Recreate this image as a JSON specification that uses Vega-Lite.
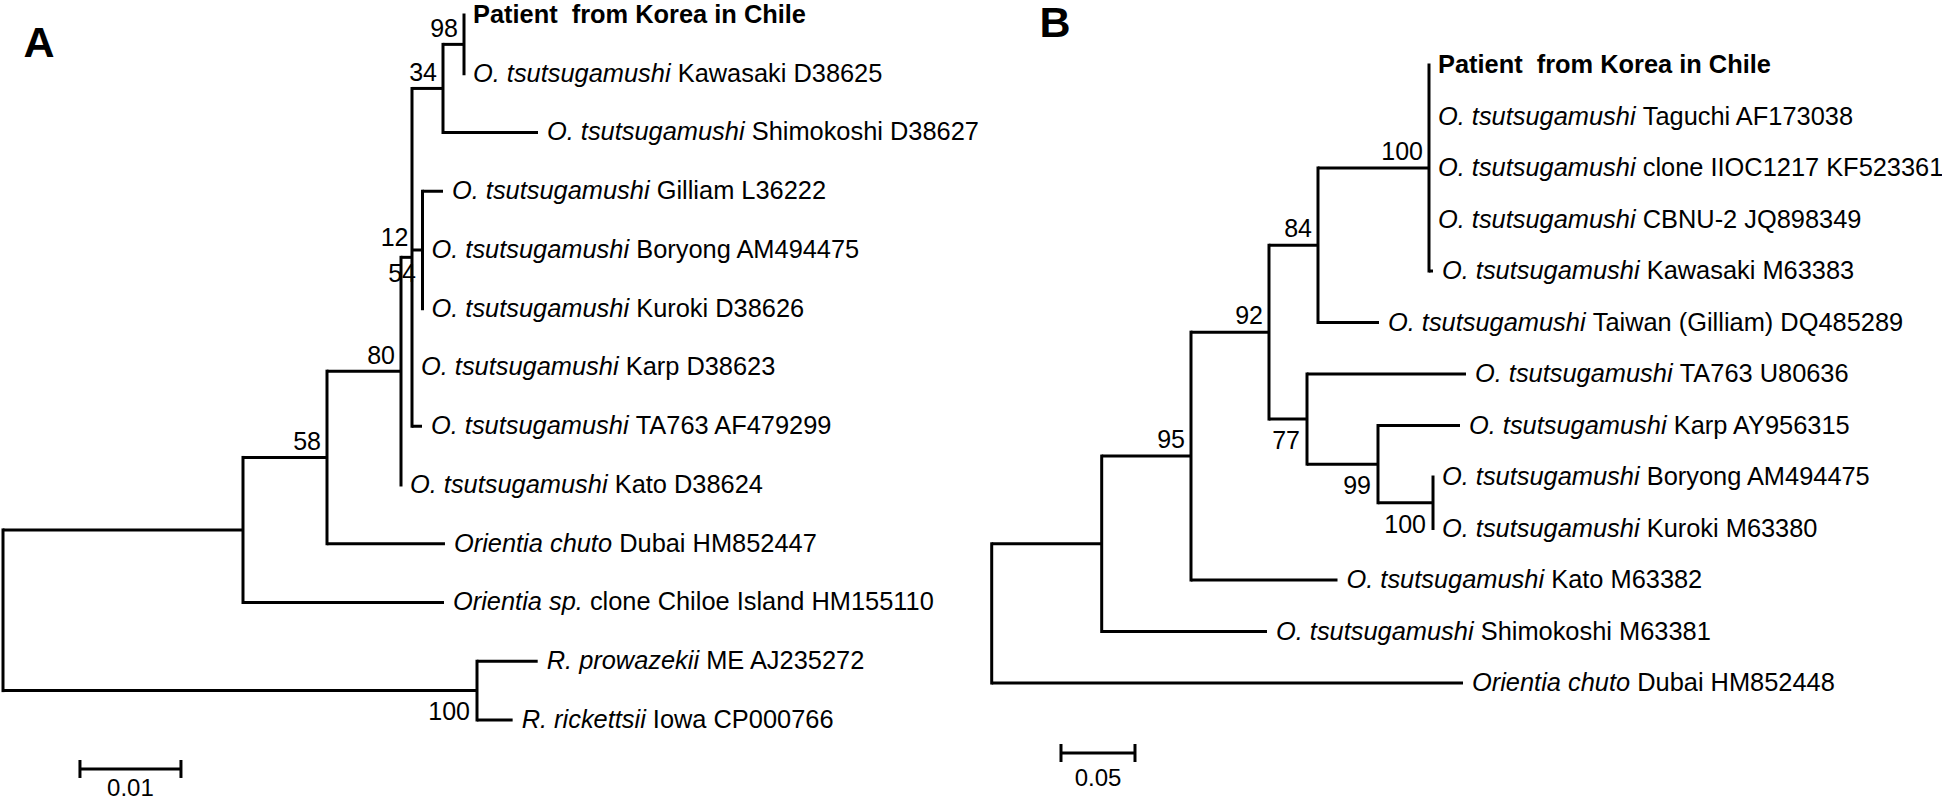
{
  "$schema": "https://vega.github.io/schema/vega-lite/v6.json",
  "padding": 0,
  "spacing": 0,
  "bounds": "flush",
  "background": "white",
  "config": {"view": {"stroke": null}, "text": {"font": "Liberation Sans", "color": "black"}, "rule": {"color": "black"}},
  "datasets": {
    "treeA": [
      {"node": "root", "parent": null, "pd": null, "d": 0, "y": 11.133},
      {"node": "n1", "parent": "root", "pd": 0, "d": 0.023762, "y": 9.765},
      {"node": "n58", "parent": "n1", "pd": 0.023762, "d": 0.032079, "y": 8.531, "boot": "58"},
      {"node": "n80", "parent": "n58", "pd": 0.032079, "d": 0.039406, "y": 7.0625, "boot": "80"},
      {"node": "n54", "parent": "n80", "pd": 0.039406, "d": 0.040495, "y": 5.125, "boot": "54"},
      {"node": "n34", "parent": "n54", "pd": 0.040495, "d": 0.043564, "y": 2.25, "boot": "34"},
      {"node": "n98", "parent": "n34", "pd": 0.043564, "d": 0.045644, "y": 1.5, "boot": "98"},
      {"node": "n12", "parent": "n54", "pd": 0.040495, "d": 0.041535, "y": 5, "boot": "12"},
      {"node": "nR", "parent": "root", "pd": 0, "d": 0.046931, "y": 12.5, "boot": "100"},
      {"node": "L1", "parent": "n98", "pd": 0.045644, "d": 0.045644, "y": 1, "rest": "Patient\u00a0 from Korea in Chile"},
      {"node": "L2", "parent": "n98", "pd": 0.045644, "d": 0.045644, "y": 2, "sp": "O. tsutsugamushi", "rest": "Kawasaki D38625"},
      {"node": "L3", "parent": "n34", "pd": 0.043564, "d": 0.05297, "y": 3, "sp": "O. tsutsugamushi", "rest": "Shimokoshi D38627"},
      {"node": "L4", "parent": "n12", "pd": 0.041535, "d": 0.043564, "y": 4, "sp": "O. tsutsugamushi", "rest": "Gilliam L36222"},
      {"node": "L5", "parent": "n12", "pd": 0.041535, "d": 0.041535, "y": 5, "sp": "O. tsutsugamushi", "rest": "Boryong AM494475"},
      {"node": "L6", "parent": "n12", "pd": 0.041535, "d": 0.041535, "y": 6, "sp": "O. tsutsugamushi", "rest": "Kuroki D38626"},
      {"node": "L7", "parent": "n54", "pd": 0.040495, "d": 0.040495, "y": 7, "sp": "O. tsutsugamushi", "rest": "Karp D38623"},
      {"node": "L8", "parent": "n54", "pd": 0.040495, "d": 0.041485, "y": 8, "sp": "O. tsutsugamushi", "rest": "TA763 AF479299"},
      {"node": "L9", "parent": "n80", "pd": 0.039406, "d": 0.039406, "y": 9, "sp": "O. tsutsugamushi", "rest": "Kato D38624"},
      {"node": "L10", "parent": "n58", "pd": 0.032079, "d": 0.04376, "y": 10, "sp": "Orientia chuto", "rest": "Dubai HM852447"},
      {"node": "L11", "parent": "n1", "pd": 0.023762, "d": 0.043663, "y": 11, "sp": "Orientia sp.", "rest": "clone Chiloe Island HM155110"},
      {"node": "L12", "parent": "nR", "pd": 0.046931, "d": 0.05294, "y": 12, "sp": "R. prowazekii", "rest": "ME AJ235272"},
      {"node": "L13", "parent": "nR", "pd": 0.046931, "d": 0.05046, "y": 13, "sp": "R. rickettsii", "rest": "Iowa CP000766"}
    ],
    "treeB": [
      {"node": "root", "parent": null, "pd": null, "d": 0, "y": 11.648},
      {"node": "n1", "parent": "root", "pd": 0, "d": 0.07432, "y": 10.297},
      {"node": "n95", "parent": "n1", "pd": 0.07432, "d": 0.13466, "y": 8.594, "boot": "95"},
      {"node": "n92", "parent": "n95", "pd": 0.13466, "d": 0.18736, "y": 6.1875, "boot": "92"},
      {"node": "n84", "parent": "n92", "pd": 0.18736, "d": 0.22047, "y": 4.5, "boot": "84"},
      {"node": "n100", "parent": "n84", "pd": 0.22047, "d": 0.29547, "y": 3, "boot": "100"},
      {"node": "n77", "parent": "n92", "pd": 0.18736, "d": 0.21304, "y": 7.875, "boot": "77"},
      {"node": "n99", "parent": "n77", "pd": 0.21304, "d": 0.26101, "y": 8.75, "boot": "99"},
      {"node": "n100b", "parent": "n99", "pd": 0.26101, "d": 0.29818, "y": 9.5, "boot": "100"},
      {"node": "L1", "parent": "n100", "pd": 0.29547, "d": 0.29547, "y": 1, "rest": "Patient\u00a0 from Korea in Chile"},
      {"node": "L2", "parent": "n100", "pd": 0.29547, "d": 0.29547, "y": 2, "sp": "O. tsutsugamushi", "rest": "Taguchi AF173038"},
      {"node": "L3", "parent": "n100", "pd": 0.29547, "d": 0.29547, "y": 3, "sp": "O. tsutsugamushi", "rest": "clone IIOC1217 KF523361"},
      {"node": "L4", "parent": "n100", "pd": 0.29547, "d": 0.29547, "y": 4, "sp": "O. tsutsugamushi", "rest": "CBNU-2 JQ898349"},
      {"node": "L5", "parent": "n100", "pd": 0.29547, "d": 0.29818, "y": 5, "sp": "O. tsutsugamushi", "rest": "Kawasaki M63383"},
      {"node": "L6", "parent": "n84", "pd": 0.22047, "d": 0.26168, "y": 6, "sp": "O. tsutsugamushi", "rest": "Taiwan (Gilliam) DQ485289"},
      {"node": "L7", "parent": "n77", "pd": 0.21304, "d": 0.32047, "y": 7, "sp": "O. tsutsugamushi", "rest": "TA763 U80636"},
      {"node": "L8", "parent": "n99", "pd": 0.26101, "d": 0.31642, "y": 8, "sp": "O. tsutsugamushi", "rest": "Karp AY956315"},
      {"node": "L9", "parent": "n100b", "pd": 0.29818, "d": 0.29818, "y": 9, "sp": "O. tsutsugamushi", "rest": "Boryong AM494475"},
      {"node": "L10", "parent": "n100b", "pd": 0.29818, "d": 0.29818, "y": 10, "sp": "O. tsutsugamushi", "rest": "Kuroki M63380"},
      {"node": "L11", "parent": "n95", "pd": 0.13466, "d": 0.23365, "y": 11, "sp": "O. tsutsugamushi", "rest": "Kato M63382"},
      {"node": "L12", "parent": "n1", "pd": 0.07432, "d": 0.18601, "y": 12, "sp": "O. tsutsugamushi", "rest": "Shimokoshi M63381"},
      {"node": "L13", "parent": "root", "pd": 0, "d": 0.31845, "y": 13, "sp": "Orientia chuto", "rest": "Dubai HM852448"}
    ],
    "barA": [
      {"x": 0.00762, "x2": 0.01762, "y": 13.834, "y2": 13.834},
      {"x": 0.00762, "x2": 0.00762, "y": 13.681, "y2": 13.987},
      {"x": 0.01762, "x2": 0.01762, "y": 13.681, "y2": 13.987}
    ],
    "notesA": [
      {"kind": "panel", "label": "A", "x": 0.00356, "y": 1.4936},
      {"kind": "scale", "label": "0.01", "x": 0.01262, "y": 14.17}
    ],
    "barB": [
      {"x": 0.04682, "x2": 0.09682, "y": 14.359, "y2": 14.359},
      {"x": 0.04682, "x2": 0.04682, "y": 14.184, "y2": 14.534},
      {"x": 0.09682, "x2": 0.09682, "y": 14.184, "y2": 14.534}
    ],
    "notesB": [
      {"kind": "panel", "label": "B", "x": 0.04277, "y": 0.2039},
      {"kind": "scale", "label": "0.05", "x": 0.07182, "y": 14.864}
    ]
  },
  "hconcat": [
    {
      "width": 980,
      "height": 801,
      "layer": [
        {
          "data": {"name": "treeA"},
          "transform": [{"filter": "datum.parent != null"}],
          "mark": {"type": "rule", "strokeWidth": 3, "color": "black", "strokeCap": "butt"},
          "encoding": {
            "x": {"field": "pd", "type": "quantitative", "scale": {"domain": [-0.000198, 0.096832], "nice": false, "zero": false}, "axis": null},
            "x2": {"field": "d"},
            "y": {"field": "y", "type": "quantitative", "scale": {"domain": [0.7447, 14.379], "nice": false, "zero": false, "reverse": true}, "axis": null}
          }
        },
        {
          "data": {"name": "treeA"},
          "transform": [
            {"filter": "datum.parent != null"},
            {"aggregate": [{"op": "min", "field": "y", "as": "y1"}, {"op": "max", "field": "y", "as": "y2"}], "groupby": ["parent", "pd"]}
          ],
          "mark": {"type": "rule", "strokeWidth": 3, "color": "black", "strokeCap": "square"},
          "encoding": {
            "x": {"field": "pd", "type": "quantitative", "axis": null},
            "y": {"field": "y1", "type": "quantitative", "axis": null},
            "y2": {"field": "y2"}
          }
        },
        {
          "data": {"name": "treeA"},
          "transform": [{"filter": "datum.sp != null"}],
          "mark": {"type": "text", "align": "left", "baseline": "middle", "dx": 9, "fontStyle": "italic", "fontSize": 25.4},
          "encoding": {"x": {"field": "d", "type": "quantitative"}, "y": {"field": "y", "type": "quantitative"}, "text": {"field": "sp"}}
        },
        {
          "data": {"name": "treeA"},
          "transform": [{"filter": "datum.sp == 'O. tsutsugamushi'"}],
          "mark": {"type": "text", "align": "left", "baseline": "middle", "dx": 213.7, "fontSize": 25.4},
          "encoding": {"x": {"field": "d", "type": "quantitative"}, "y": {"field": "y", "type": "quantitative"}, "text": {"field": "rest"}}
        },
        {
          "data": {"name": "treeA"},
          "transform": [{"filter": "datum.sp == 'Orientia chuto'"}],
          "mark": {"type": "text", "align": "left", "baseline": "middle", "dx": 174.2, "fontSize": 25.4},
          "encoding": {"x": {"field": "d", "type": "quantitative"}, "y": {"field": "y", "type": "quantitative"}, "text": {"field": "rest"}}
        },
        {
          "data": {"name": "treeA"},
          "transform": [{"filter": "datum.sp == 'Orientia sp.'"}],
          "mark": {"type": "text", "align": "left", "baseline": "middle", "dx": 145.9, "fontSize": 25.4},
          "encoding": {"x": {"field": "d", "type": "quantitative"}, "y": {"field": "y", "type": "quantitative"}, "text": {"field": "rest"}}
        },
        {
          "data": {"name": "treeA"},
          "transform": [{"filter": "datum.sp == 'R. prowazekii'"}],
          "mark": {"type": "text", "align": "left", "baseline": "middle", "dx": 168.5, "fontSize": 25.4},
          "encoding": {"x": {"field": "d", "type": "quantitative"}, "y": {"field": "y", "type": "quantitative"}, "text": {"field": "rest"}}
        },
        {
          "data": {"name": "treeA"},
          "transform": [{"filter": "datum.sp == 'R. rickettsii'"}],
          "mark": {"type": "text", "align": "left", "baseline": "middle", "dx": 140.2, "fontSize": 25.4},
          "encoding": {"x": {"field": "d", "type": "quantitative"}, "y": {"field": "y", "type": "quantitative"}, "text": {"field": "rest"}}
        },
        {
          "data": {"name": "treeA"},
          "transform": [{"filter": "datum.sp == null && datum.rest != null"}],
          "mark": {"type": "text", "align": "left", "baseline": "middle", "dx": 9, "fontWeight": "bold", "fontSize": 25.4},
          "encoding": {"x": {"field": "d", "type": "quantitative"}, "y": {"field": "y", "type": "quantitative"}, "text": {"field": "rest"}}
        },
        {
          "data": {"name": "treeA"},
          "transform": [{"filter": "datum.boot != null && indexof(['n98','n34','n80','n58'], datum.node) >= 0"}],
          "mark": {"type": "text", "align": "right", "baseline": "middle", "dx": -6, "dy": -15, "fontSize": 25},
          "encoding": {"x": {"field": "d", "type": "quantitative"}, "y": {"field": "y", "type": "quantitative"}, "text": {"field": "boot"}}
        },
        {
          "data": {"name": "treeA"},
          "transform": [{"filter": "datum.node == 'nR'"}],
          "mark": {"type": "text", "align": "right", "baseline": "middle", "dx": -7, "dy": 21, "fontSize": 25},
          "encoding": {"x": {"field": "d", "type": "quantitative"}, "y": {"field": "y", "type": "quantitative"}, "text": {"field": "boot"}}
        },
        {
          "data": {"name": "treeA"},
          "transform": [{"filter": "datum.node == 'n12'"}],
          "mark": {"type": "text", "align": "right", "baseline": "middle", "dx": -14, "dy": -12, "fontSize": 25},
          "encoding": {"x": {"field": "d", "type": "quantitative"}, "y": {"field": "y", "type": "quantitative"}, "text": {"field": "boot"}}
        },
        {
          "data": {"name": "treeA"},
          "transform": [{"filter": "datum.node == 'n54'"}],
          "mark": {"type": "text", "align": "right", "baseline": "middle", "dx": 4, "dy": 17, "fontSize": 25},
          "encoding": {"x": {"field": "d", "type": "quantitative"}, "y": {"field": "y", "type": "quantitative"}, "text": {"field": "boot"}}
        },
        {
          "data": {"name": "barA"},
          "mark": {"type": "rule", "strokeWidth": 3, "color": "black"},
          "encoding": {"x": {"field": "x", "type": "quantitative"}, "x2": {"field": "x2"}, "y": {"field": "y", "type": "quantitative"}, "y2": {"field": "y2"}}
        },
        {
          "data": {"name": "notesA"},
          "transform": [{"filter": "datum.kind == 'panel'"}],
          "mark": {"type": "text", "align": "center", "baseline": "middle", "fontSize": 43, "fontWeight": "bold"},
          "encoding": {"x": {"field": "x", "type": "quantitative"}, "y": {"field": "y", "type": "quantitative"}, "text": {"field": "label"}}
        },
        {
          "data": {"name": "notesA"},
          "transform": [{"filter": "datum.kind == 'scale'"}],
          "mark": {"type": "text", "align": "center", "baseline": "middle", "fontSize": 24, "clip": true},
          "encoding": {"x": {"field": "x", "type": "quantitative"}, "y": {"field": "y", "type": "quantitative"}, "text": {"field": "label"}}
        }
      ]
    },
    {
      "width": 962,
      "height": 801,
      "layer": [
        {
          "data": {"name": "treeB"},
          "transform": [{"filter": "datum.parent != null"}],
          "mark": {"type": "rule", "strokeWidth": 3, "color": "black", "strokeCap": "butt"},
          "encoding": {
            "x": {"field": "pd", "type": "quantitative", "scale": {"domain": [-0.00723, 0.64277], "nice": false, "zero": false}, "axis": null},
            "x2": {"field": "d"},
            "y": {"field": "y", "type": "quantitative", "scale": {"domain": [-0.2621, 15.291], "nice": false, "zero": false, "reverse": true}, "axis": null}
          }
        },
        {
          "data": {"name": "treeB"},
          "transform": [
            {"filter": "datum.parent != null"},
            {"aggregate": [{"op": "min", "field": "y", "as": "y1"}, {"op": "max", "field": "y", "as": "y2"}], "groupby": ["parent", "pd"]}
          ],
          "mark": {"type": "rule", "strokeWidth": 3, "color": "black", "strokeCap": "square"},
          "encoding": {
            "x": {"field": "pd", "type": "quantitative", "axis": null},
            "y": {"field": "y1", "type": "quantitative", "axis": null},
            "y2": {"field": "y2"}
          }
        },
        {
          "data": {"name": "treeB"},
          "transform": [{"filter": "datum.sp != null"}],
          "mark": {"type": "text", "align": "left", "baseline": "middle", "dx": 9, "fontStyle": "italic", "fontSize": 25.4, "clip": true},
          "encoding": {"x": {"field": "d", "type": "quantitative"}, "y": {"field": "y", "type": "quantitative"}, "text": {"field": "sp"}}
        },
        {
          "data": {"name": "treeB"},
          "transform": [{"filter": "datum.sp == 'O. tsutsugamushi'"}],
          "mark": {"type": "text", "align": "left", "baseline": "middle", "dx": 213.7, "fontSize": 25.4, "clip": true},
          "encoding": {"x": {"field": "d", "type": "quantitative"}, "y": {"field": "y", "type": "quantitative"}, "text": {"field": "rest"}}
        },
        {
          "data": {"name": "treeB"},
          "transform": [{"filter": "datum.sp == 'Orientia chuto'"}],
          "mark": {"type": "text", "align": "left", "baseline": "middle", "dx": 174.2, "fontSize": 25.4, "clip": true},
          "encoding": {"x": {"field": "d", "type": "quantitative"}, "y": {"field": "y", "type": "quantitative"}, "text": {"field": "rest"}}
        },
        {
          "data": {"name": "treeB"},
          "transform": [{"filter": "datum.sp == null && datum.rest != null"}],
          "mark": {"type": "text", "align": "left", "baseline": "middle", "dx": 9, "fontWeight": "bold", "fontSize": 25.4, "clip": true},
          "encoding": {"x": {"field": "d", "type": "quantitative"}, "y": {"field": "y", "type": "quantitative"}, "text": {"field": "rest"}}
        },
        {
          "data": {"name": "treeB"},
          "transform": [{"filter": "datum.boot != null && indexof(['n100','n84','n92','n95'], datum.node) >= 0"}],
          "mark": {"type": "text", "align": "right", "baseline": "middle", "dx": -6, "dy": -16, "fontSize": 25},
          "encoding": {"x": {"field": "d", "type": "quantitative"}, "y": {"field": "y", "type": "quantitative"}, "text": {"field": "boot"}}
        },
        {
          "data": {"name": "treeB"},
          "transform": [{"filter": "datum.boot != null && indexof(['n77','n99','n100b'], datum.node) >= 0"}],
          "mark": {"type": "text", "align": "right", "baseline": "middle", "dx": -7, "dy": 22, "fontSize": 25},
          "encoding": {"x": {"field": "d", "type": "quantitative"}, "y": {"field": "y", "type": "quantitative"}, "text": {"field": "boot"}}
        },
        {
          "data": {"name": "barB"},
          "mark": {"type": "rule", "strokeWidth": 3, "color": "black"},
          "encoding": {"x": {"field": "x", "type": "quantitative"}, "x2": {"field": "x2"}, "y": {"field": "y", "type": "quantitative"}, "y2": {"field": "y2"}}
        },
        {
          "data": {"name": "notesB"},
          "transform": [{"filter": "datum.kind == 'panel'"}],
          "mark": {"type": "text", "align": "center", "baseline": "middle", "fontSize": 43, "fontWeight": "bold"},
          "encoding": {"x": {"field": "x", "type": "quantitative"}, "y": {"field": "y", "type": "quantitative"}, "text": {"field": "label"}}
        },
        {
          "data": {"name": "notesB"},
          "transform": [{"filter": "datum.kind == 'scale'"}],
          "mark": {"type": "text", "align": "center", "baseline": "middle", "fontSize": 24, "clip": true},
          "encoding": {"x": {"field": "x", "type": "quantitative"}, "y": {"field": "y", "type": "quantitative"}, "text": {"field": "label"}}
        }
      ]
    }
  ]
}
